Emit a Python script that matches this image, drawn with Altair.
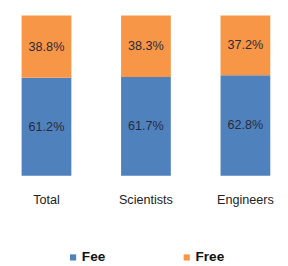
import altair as alt
import pandas as pd

groups = ["Total", "Scientists", "Engineers"]
fee = [61.2, 61.7, 62.8]
free = [38.8, 38.3, 37.2]
series = ["Fee", "Free"]
colors = ["#4F81BD", "#F79646"]

rows = []
for g, a, b in zip(groups, fee, free):
    rows.append({"group": g, "type": "Fee", "value": a})
    rows.append({"group": g, "type": "Free", "value": b})
df = pd.DataFrame(rows)

x = alt.X("group:N", sort=groups, title=None,
          scale=alt.Scale(paddingInner=0.5, paddingOuter=0.0),
          axis=alt.Axis(domain=False, ticks=False, labelAngle=0, labelPadding=18,
                        labelFontSize=13, labelColor="#222222", labelFont="Liberation Sans"))

base = alt.Chart(df)

bars = base.mark_bar().encode(
    x=x,
    y=alt.Y("value:Q", stack="zero", scale=alt.Scale(domain=[0, 100]), axis=None),
    color=alt.Color("type:N", scale=alt.Scale(domain=series, range=colors),
                    legend=alt.Legend(title=None, orient="none", direction="horizontal",
                                      legendX=46, legendY=242, padding=0,
                                      symbolType="square", symbolSize=40,
                                      labelFontSize=14, labelFontWeight="bold",
                                      labelFont="Liberation Sans", labelColor="#111111",
                                      columnPadding=76, labelOffset=2)),
    order=alt.Order("type:N", sort="ascending"),
)

labels = base.transform_stack(
    stack="value", groupby=["group"], as_=["v0", "v1"], sort=[alt.SortField("type", order="ascending")]
).transform_calculate(
    mid="(datum.v0 + datum.v1) / 2",
    lab="format(datum.value, '.1f') + '%'"
).mark_text(fontSize=13, color="#2a2a3a", font="Liberation Sans").encode(
    x=alt.X("group:N", sort=groups),
    y=alt.Y("mid:Q", scale=alt.Scale(domain=[0, 100])),
    text="lab:N",
)

chart = (bars + labels).properties(
    width=256, height=165,
    autosize=alt.AutoSizeParams(type="none"),
    padding={"left": 14, "top": 4, "right": 10, "bottom": 88},
).configure_view(stroke=None)

chart.save("out.html", embed_options={"renderer": "svg", "actions": False})
